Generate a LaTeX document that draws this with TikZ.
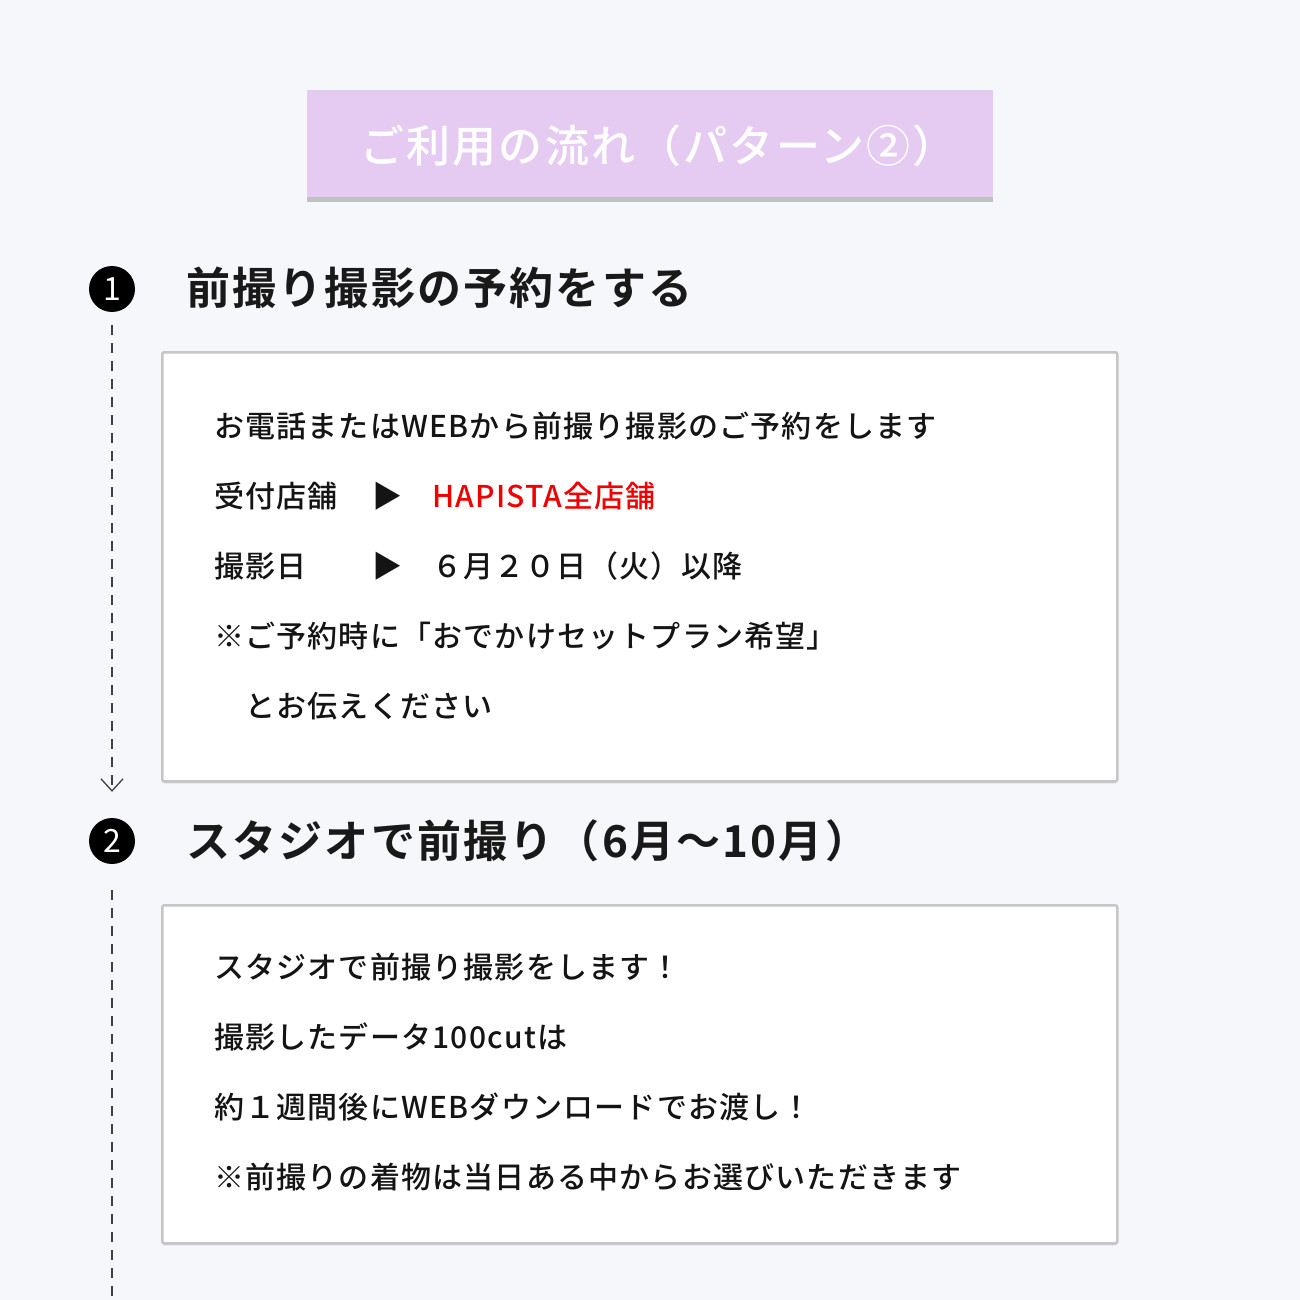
\documentclass[tikz,border=0pt]{standalone}
\usepackage{fontspec}
\setmainfont{Noto Sans CJK JP}[BoldFont={Noto Sans CJK JP Bold}]
\newfontfamily\titlefont{Noto Sans CJK JP Medium}[LetterSpace=5]
\newfontfamily\dotfont{Noto Sans CJK JP}
\newfontfamily\headfont{Noto Sans CJK JP Bold}[LetterSpace=5]
\newfontfamily\bodyfont{Noto Sans CJK JP Medium}[LetterSpace=4]
\usetikzlibrary{arrows.meta}
\usetikzlibrary{shadows}
\definecolor{pagebg}{RGB}{246,247,251}
\definecolor{lavender}{RGB}{229,203,242}
\definecolor{panelgray}{RGB}{198,198,201}
\definecolor{hapired}{RGB}{240,0,0}
\newcommand{\pointer}{▶}
\tikzset{
    titlebox/.style={fill=lavender, minimum width=686pt, minimum height=107pt,
        drop shadow={shadow xshift=0pt, shadow yshift=-5pt, fill=black!45, opacity=.5}},
    titletext/.style={text=white, inner sep=0pt, font=\titlefont\fontsize{44}{44}\selectfont},
    numdot/.style={circle, fill=black, minimum size=46pt, inner sep=0pt, text=white,
        font=\dotfont\fontsize{32}{32}\selectfont},
    heading/.style={anchor=west, inner sep=0pt, text=black!90, font=\headfont\fontsize{44}{44}\selectfont},
    panel/.style={anchor=north west, draw=panelgray, line width=2.5pt, fill=white, rounded corners=2pt,
        drop shadow={shadow xshift=0pt, shadow yshift=-2pt, fill=black!30, opacity=.5}},
    bodyline/.style={anchor=west, inner sep=0pt, text=black!92, font=\bodyfont\fontsize{30}{30}\selectfont},
    flow/.style={draw=black!75, line width=1.3pt, dash pattern=on 10pt off 8pt},
    flowend/.style={flow, -{Straight Barb[length=12pt,width=22pt,line width=1.3pt]}}
}
\begin{document}
\begin{tikzpicture}[x=1pt,y=-1pt]
    \fill[pagebg] (0,0) rectangle (1300,1300);
    \useasboundingbox (0,0) rectangle (1300,1300);

    \node[titlebox] (title) at (650,143.5) {};
    \node[titletext, anchor=west] (titlelabel) at (360,146) {ご利用の流れ（パターン②）};

    % step 1
    \node[numdot] (n1) at (112,289) {1};
    \node[heading] (h1) at (186,288) {前撮り撮影の予約をする};
    \node[panel, minimum width=955pt, minimum height=429pt] (box1) at (161,351) {};
    \node[bodyline] (a1) at (214,426) {お電話またはWEBから前撮り撮影のご予約をします};
    \node[bodyline] (a2) at (214,496) {受付店舗};
    \node[bodyline] (a2p) at (372,496) {\pointer};
    \node[bodyline, text=hapired] (a2v) at (432,496) {HAPISTA全店舗};
    \node[bodyline] (a3) at (214,566) {撮影日};
    \node[bodyline] (a3p) at (372,566) {\pointer};
    \node[bodyline] (a3v) at (432,566) {６月２０日（火）以降};
    \node[bodyline] (a4) at (214,636) {※ご予約時に「おでかけセットプラン希望」};
    \node[bodyline] (a5) at (214,706) {　とお伝えください};

    % step 2
    \node[numdot] (n2) at (112,841) {2};
    \node[heading] (h2) at (186,841) {スタジオで前撮り（6月～10月）};
    \node[panel, minimum width=955pt, minimum height=338pt] (box2) at (161,904) {};
    \node[bodyline] (b1) at (214,967) {スタジオで前撮り撮影をします！};
    \node[bodyline] (b2) at (214,1037) {撮影したデータ100cutは};
    \node[bodyline] (b3) at (214,1107) {約１週間後にWEBダウンロードでお渡し！};
    \node[bodyline] (b4) at (214,1177) {※前撮りの着物は当日ある中からお選びいただきます};

    \coordinate (tail) at (112,1300);
    \draw[flowend] ([yshift=-13pt]n1.south) -- ([yshift=26pt]n2.north);
    \draw[flow] ([yshift=-26pt]n2.south) -- (tail);
\end{tikzpicture}
\end{document}
